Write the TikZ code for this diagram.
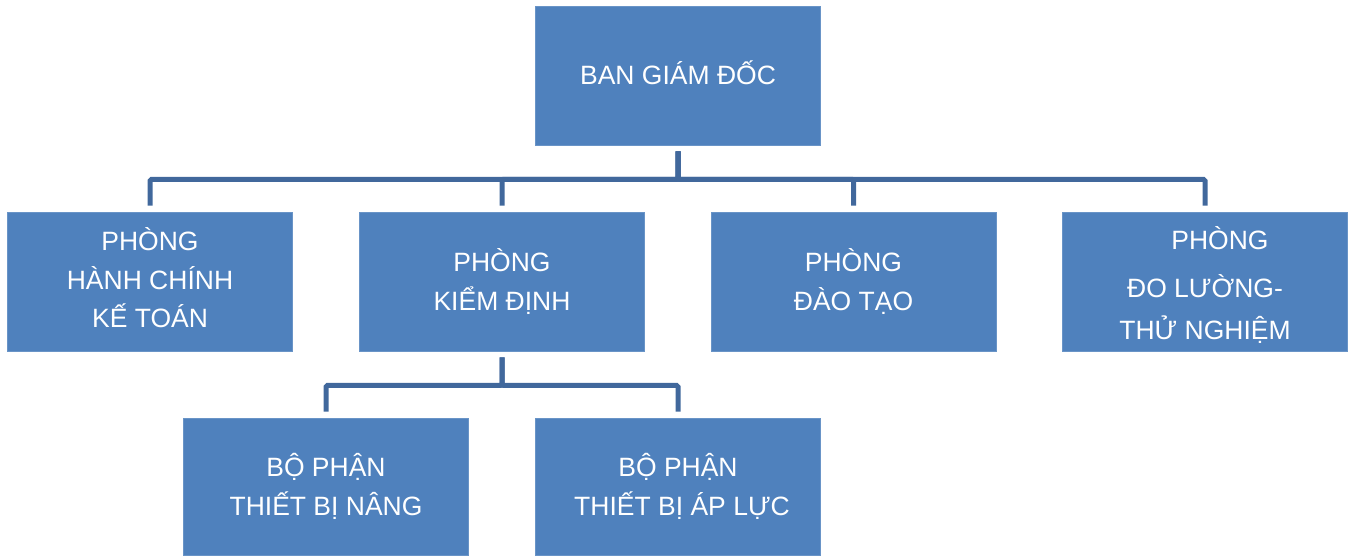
\documentclass[tikz,border=0pt]{standalone}
\usepackage{fontspec}
\setmainfont{Liberation Sans}
\definecolor{boxblue}{HTML}{4F81BD}
\definecolor{lineblue}{HTML}{41689C}
\begin{document}
\begin{tikzpicture}[x=1pt,y=-1pt,
  orgbox/.style={fill=boxblue, draw=boxblue!85!white, line width=0.8pt, text=white,
    minimum width=285pt, minimum height=139pt, inner sep=0pt, align=center,
    font=\fontsize{26.5}{38.5}\selectfont},
  conn/.style={draw=lineblue, line width=5pt, rounded corners=1.5pt,
    shorten <=6pt, shorten >=6pt}]
\useasboundingbox (0,0) rectangle (1354,555);
\node[orgbox] (bgd) at (678,75.5) {BAN GIÁM ĐỐC\rule[-6pt]{0pt}{6pt}};
\node[orgbox] (hc) at (150,281.5) {PHÒNG\\HÀNH CHÍNH\\KẾ TOÁN\rule[-7pt]{0pt}{7pt}};
\node[orgbox] (kd) at (502,281.5) {PHÒNG\\KIỂM ĐỊNH};
\node[orgbox] (dt) at (853.5,281.5) {PHÒNG\\ĐÀO TẠO};
\node[orgbox] (dl) at (1205,281.5) {\rule{0pt}{31pt}\hspace*{30pt}PHÒNG\\[9pt]ĐO LƯỜNG-\\[4pt]THỬ NGHIỆM};
\node[orgbox, minimum height=137pt] (tbn) at (326,486.5) {BỘ PHẬN\\THIẾT BỊ NÂNG};
\node[orgbox, minimum height=137pt] (tba) at (678,486.5) {BỘ PHẬN\\\hspace*{8pt}THIẾT BỊ ÁP LỰC};
\foreach \c in {hc,kd,dt,dl}
  \draw[conn] (bgd.south) -- ++(0,34) -| (\c.north);
\foreach \c in {tbn,tba}
  \draw[conn] (kd.south) -- ++(0,34) -| (\c.north);
\end{tikzpicture}
\end{document}
